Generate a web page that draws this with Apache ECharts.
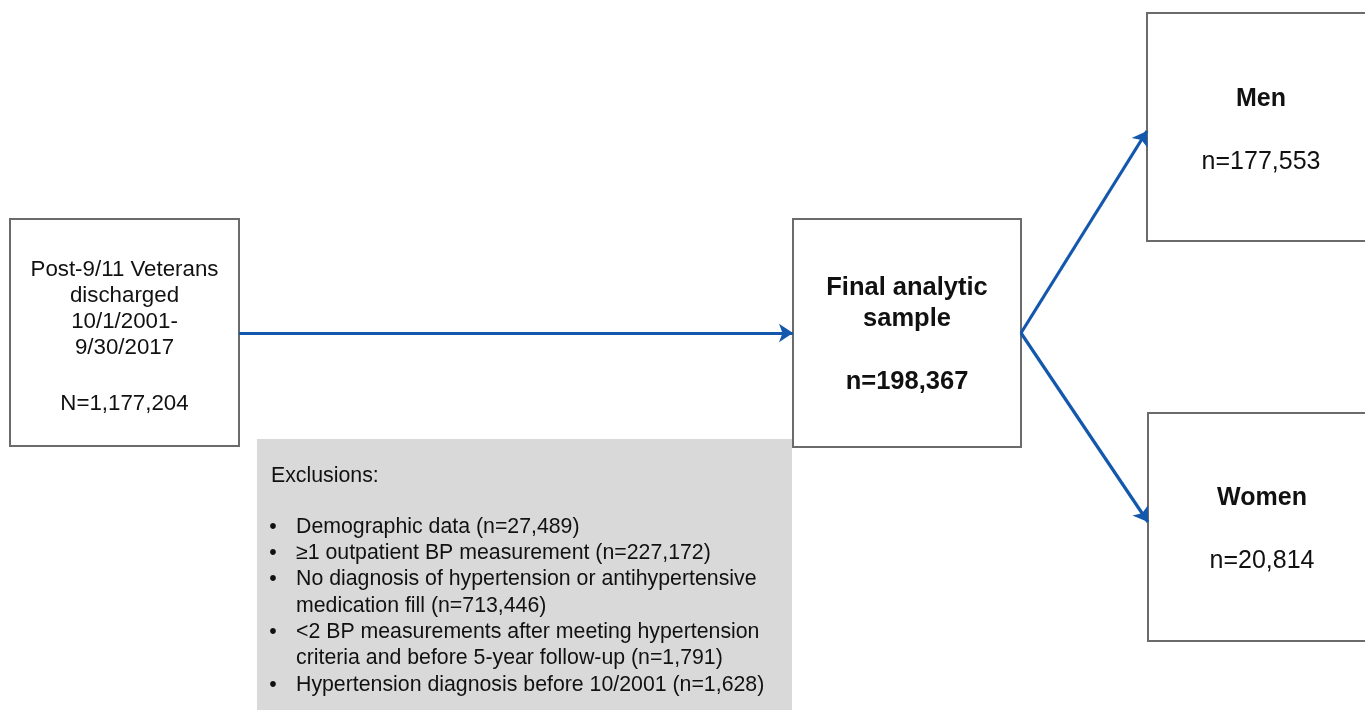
<!DOCTYPE html>
<html><head><meta charset="utf-8">
<script src="https://cdn.jsdelivr.net/npm/echarts@6/dist/echarts.min.js"></script>
<style>html,body{margin:0;padding:0;background:#fff}#c{width:1365px;height:710px}</style>
</head><body><div id="c"></div>
<script>
// ---- data ----
const cohortLines = ['Post-9/11 Veterans', 'discharged', '10/1/2001-', '9/30/2017'];
const cohortN = 1177204;
const finalLines = ['Final analytic', 'sample'];
const finalN = 198367;
const groupNames = ['Men', 'Women'];
const groupN = [177553, 20814];
const exclusionTitle = 'Exclusions:';
const exclusionItems = [
  'Demographic data',
  '\u22651 outpatient BP measurement',
  'No diagnosis of hypertension or antihypertensive\nmedication fill',
  '<2 BP measurements after meeting hypertension\ncriteria and before 5-year follow-up',
  'Hypertension diagnosis before 10/2001'
];
const exclusionN = [27489, 227172, 713446, 1791, 1628];

// ---- layout (pixel space of a hidden 1365 x 710 axis) ----
const layout = {
  cohort: { x: 10, y: 219, w: 229, h: 227 },
  final:  { x: 793, y: 219, w: 228, h: 228 },
  men:    { x: 1147, y: 13, w: 228, h: 228 },
  women:  { x: 1148, y: 413, w: 228, h: 228 },
  excl:   { x: 257, y: 439, w: 535, h: 275 }
};
const FONT = 'Liberation Sans, Arial, Helvetica, sans-serif';
const BLUE = '#1458ad';
const fmt = n => n.toLocaleString('en-US');

function centerText(text, rich, dy) {
  return { text, rich, dy: dy || 0 };
}
const boxes = [
  { L: layout.cohort, fill: '#fff', stroke: '#6b6b6b',
    texts: [centerText(
      cohortLines.map(l => '{a|' + l + '}').join('\n') + '\n{g| }\n{a|N=' + fmt(cohortN) + '}',
      { a: { fontSize: 22.3, lineHeight: 26, fontFamily: FONT, fill: '#111' },
        g: { fontSize: 22, lineHeight: 30, fontFamily: FONT } }, 4)] },
  { L: layout.final, fill: '#fff', stroke: '#6b6b6b',
    texts: [centerText(
      finalLines.map(l => '{b|' + l + '}').join('\n') + '\n{b| }\n{b|n=' + fmt(finalN) + '}',
      { b: { fontSize: 25.5, fontWeight: 'bold', lineHeight: 31.5, fontFamily: FONT, fill: '#111' } }, 2)] },
  { L: layout.men, fill: '#fff', stroke: '#6b6b6b',
    texts: [centerText('{t|' + groupNames[0] + '}\n{t| }\n{n|n=' + fmt(groupN[0]) + '}',
      { t: { fontSize: 25, fontWeight: 'bold', lineHeight: 31.5, fontFamily: FONT, fill: '#111' },
        n: { fontSize: 25, lineHeight: 31.5, fontFamily: FONT, fill: '#111' } }, 3.5)] },
  { L: layout.women, fill: '#fff', stroke: '#6b6b6b',
    texts: [centerText('{t|' + groupNames[1] + '}\n{t| }\n{n|n=' + fmt(groupN[1]) + '}',
      { t: { fontSize: 25, fontWeight: 'bold', lineHeight: 31.5, fontFamily: FONT, fill: '#111' },
        n: { fontSize: 25, lineHeight: 31.5, fontFamily: FONT, fill: '#111' } }, 2.5)] },
  { L: layout.excl, fill: '#d9d9d9', stroke: null, texts: 'excl' }
];

function exclusionTexts(x, y) {
  const itemLines = [], bulletLines = [];
  exclusionItems.forEach((it, i) => {
    const parts = (it + ' (n=' + fmt(exclusionN[i]) + ')').split('\n');
    parts.forEach((p, j) => { itemLines.push(p); bulletLines.push(j === 0 ? '\u2022' : ' '); });
  });
  const base = { fontSize: 21.3, fontFamily: FONT, fill: '#111', lineHeight: 26.3 };
  return [
    { type: 'text', style: Object.assign({}, base, { text: exclusionTitle, x: x + 14, y: y + 37, align: 'left', verticalAlign: 'middle' }) },
    { type: 'text', style: Object.assign({}, base, { text: bulletLines.join('\n'), x: x + 16, y: y + 88 - 13.15, align: 'center', verticalAlign: 'top' }) },
    { type: 'text', style: Object.assign({}, base, { text: itemLines.join('\n'), x: x + 39, y: y + 88 - 13.15, align: 'left', verticalAlign: 'top' }) }
  ];
}

function renderItem(params, api) {
  const b = boxes[params.dataIndex];
  const p0 = api.coord([api.value(0), api.value(1)]);
  const p1 = api.coord([api.value(0) + api.value(2), api.value(1) + api.value(3)]);
  const x = p0[0], y = Math.min(p0[1], p1[1]);
  const w = p1[0] - p0[0], h = Math.abs(p1[1] - p0[1]);
  const children = [{ type: 'rect', shape: { x, y, width: w, height: h },
    style: { fill: b.fill, stroke: b.stroke, lineWidth: b.stroke ? 2 : 0 } }];
  if (b.texts === 'excl') {
    exclusionTexts(x, y).forEach(t => children.push(t));
  } else {
    b.texts.forEach(t => children.push({ type: 'text', style: {
      text: t.text, rich: t.rich, x: x + w / 2, y: y + h / 2 + t.dy,
      align: 'center', verticalAlign: 'middle' } }));
  }
  return { type: 'group', children };
}

const L = layout;
const arrows = [
  { coords: [[L.cohort.x + L.cohort.w, 333], [L.final.x, 333]] },
  { coords: [[L.final.x + L.final.w, 333], [L.men.x, 131]] },
  { coords: [[L.final.x + L.final.w, 333], [L.women.x, 522]] }
];

const chart = echarts.init(document.getElementById('c'), null, { renderer: 'canvas' });
chart.setOption({
  animation: false,
  backgroundColor: '#fff',
  grid: { left: 0, right: 0, top: 0, bottom: 0 },
  xAxis: { type: 'value', min: 0, max: 1365, show: false },
  yAxis: { type: 'value', min: 0, max: 710, inverse: true, show: false },
  series: [
    { type: 'custom', coordinateSystem: 'cartesian2d', renderItem, clip: false, silent: true,
      data: boxes.map(b => [b.L.x, b.L.y, b.L.w, b.L.h]) },
    { type: 'lines', coordinateSystem: 'cartesian2d', silent: true, z: 5,
      symbol: ['none', 'arrow'], symbolSize: 14,
      lineStyle: { color: BLUE, width: 3.2, opacity: 1, curveness: 0 },
      data: arrows }
  ]
});
</script></body></html>
